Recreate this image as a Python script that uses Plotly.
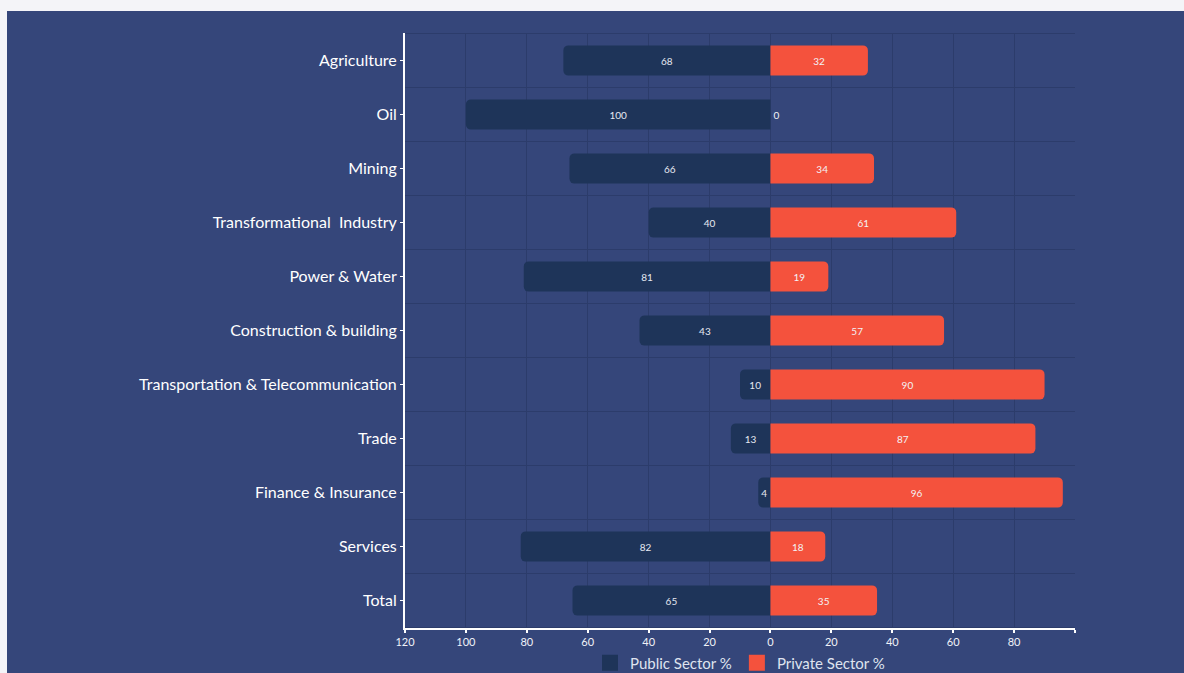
import plotly.graph_objects as go

categories = ["Agriculture", "Oil", "Mining", "Transformational  Industry", "Power & Water",
              "Construction & building", "Transportation & Telecommunication", "Trade",
              "Finance & Insurance", "Services", "Total"]
public = [68, 100, 66, 40, 81, 43, 10, 13, 4, 82, 65]
private = [32, 0, 34, 61, 19, 57, 90, 87, 96, 18, 35]
tick_vals = [-120, -100, -80, -60, -40, -20, 0, 20, 40, 60, 80, 100]
tick_text = ["120", "100", "80", "60", "40", "20", "0", "20", "40", "60", "80", ""]

PANEL = "#35467a"
PUBLIC_C = "#1e3459"
PRIVATE_C = "#f4523d"
GRID = "#2c3c6b"
FONT = "Lato, 'Open Sans', sans-serif"

fig = go.Figure()
fig.add_trace(go.Bar(
    y=categories, x=[-v for v in public], orientation="h", name="Public Sector %",
    marker=dict(color=PUBLIC_C, cornerradius=5, line=dict(width=0)),
    text=[str(v) for v in public], textposition="inside", insidetextanchor="middle",
    constraintext="none", showlegend=False,
    textfont=dict(color="#e6e9f2", size=10, family=FONT),
    hovertemplate="%{y}: %{text}<extra></extra>",
))
fig.add_trace(go.Bar(
    y=categories, x=private, orientation="h", name="Private Sector %",
    marker=dict(color=PRIVATE_C, cornerradius=5, line=dict(width=0)),
    text=[str(v) for v in private],
    textposition=["outside" if v == 0 else "inside" for v in private],
    insidetextanchor="middle", constraintext="none", cliponaxis=False,
    showlegend=False,
    textfont=dict(color="#f3f3f6", size=10, family=FONT),
    hovertemplate="%{y}: %{x}<extra></extra>",
))
# legend-only entries with larger square swatches
for nm, col in [("Public Sector %", PUBLIC_C), ("Private Sector %", PRIVATE_C)]:
    fig.add_trace(go.Scatter(x=[None], y=[None], mode="markers", name=nm,
                             marker=dict(symbol="square", size=17, color=col),
                             showlegend=True, hoverinfo="skip"))

shapes = [dict(type="rect", xref="paper", yref="paper",
               x0=-398 / 670, x1=2, y0=-1, y1=1 + 22 / 595,
               fillcolor=PANEL, line=dict(width=0), layer="below")]
for i in range(len(categories) + 1):
    shapes.append(dict(type="line", xref="paper", yref="y", x0=0, x1=1,
                       y0=i - 0.5, y1=i - 0.5, line=dict(color=GRID, width=1),
                       layer="below"))

fig.update_layout(
    width=1184, height=673,
    margin=dict(l=405, r=109, t=33, b=45, autoexpand=False),
    paper_bgcolor="#f4f4f8", plot_bgcolor="rgba(0,0,0,0)",
    barmode="relative", bargap=0.44,
    font=dict(family=FONT, color="#ffffff"),
    shapes=shapes,
    showlegend=True,
    legend=dict(orientation="h", x=0.5, xanchor="center", y=-0.059, yanchor="middle",
                font=dict(size=15, color="#dfe3ee", family=FONT),
                bgcolor="rgba(0,0,0,0)", itemwidth=30, traceorder="normal",
                tracegroupgap=0),
    xaxis=dict(range=[-120, 100], tickvals=tick_vals, ticktext=tick_text,
               showgrid=True, gridcolor=GRID, gridwidth=1, zeroline=False,
               showline=True, linecolor="#ffffff", linewidth=2,
               ticks="outside", ticklen=3, tickcolor="#ffffff", tickwidth=2,
               tickfont=dict(size=11, color="#f0f2f8", family=FONT)),
    yaxis=dict(autorange="reversed", showgrid=False, zeroline=False,
               showline=True, linecolor="#ffffff", linewidth=2,
               ticks="outside", ticklen=3, tickcolor="#ffffff", tickwidth=1,
               tickfont=dict(size=16, color="#ffffff", family=FONT)),
)

fig.write_html("out.html")
